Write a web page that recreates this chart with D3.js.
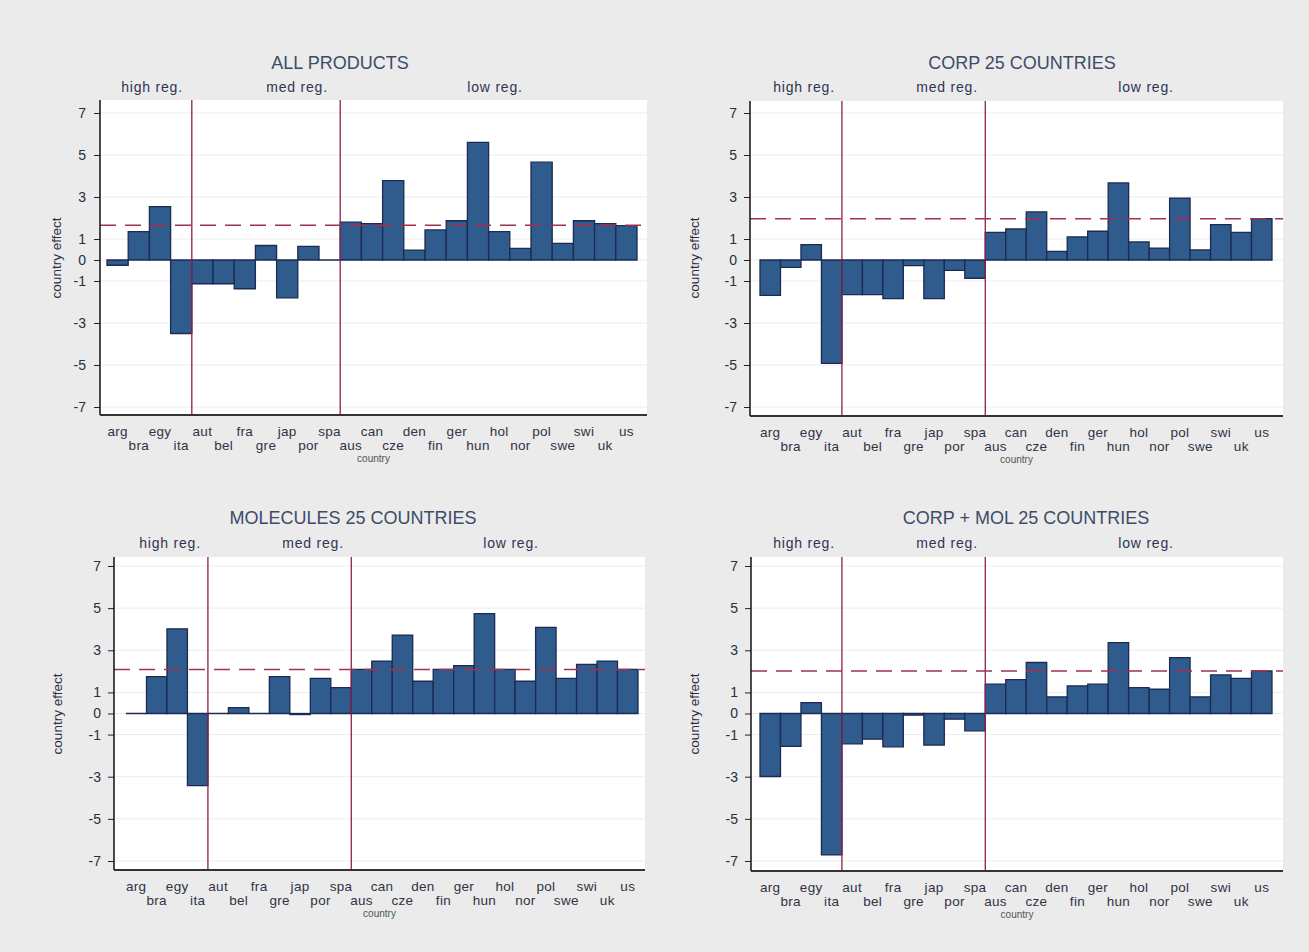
<!DOCTYPE html>
<html>
<head>
<meta charset="utf-8">
<script src="https://cdn.jsdelivr.net/npm/d3@7"></script>
<style>
  html, body { margin: 0; padding: 0; background: #ebebeb; }
  svg { display: block; }
  text { font-family: "Liberation Sans", Arial, sans-serif; }
</style>
</head>
<body>
<svg id="chart" width="1309" height="952"></svg>
<script>
// Countries in the order drawn along each x axis
const countries = ["arg","bra","egy","ita","aut","bel","fra","gre","jap","por","spa",
  "aus","can","cze","den","fin","ger","hun","hol","nor","pol","swe","swi","uk","us"];

// Estimated country effects, one series per panel
const allProducts = [-0.25, 1.35, 2.54, -3.5, -1.13, -1.13, -1.37, 0.69, -1.8, 0.65, 0,
  1.8, 1.73, 3.78, 0.47, 1.43, 1.87, 5.6, 1.35, 0.55, 4.66, 0.79, 1.87, 1.73, 1.64];
const corp25 = [-1.68, -0.35, 0.73, -4.92, -1.65, -1.65, -1.84, -0.27, -1.84, -0.49, -0.87,
  1.32, 1.48, 2.29, 0.41, 1.1, 1.37, 3.67, 0.86, 0.57, 2.95, 0.48, 1.68, 1.32, 1.97];
const molecules25 = [0, 1.75, 4.02, -3.42, 0, 0.28, 0, 1.75, -0.05, 1.67, 1.23,
  2.09, 2.49, 3.72, 1.53, 2.09, 2.27, 4.74, 2.09, 1.53, 4.09, 1.67, 2.33, 2.49, 2.09];
const corpMol25 = [-2.99, -1.56, 0.52, -6.71, -1.44, -1.22, -1.58, -0.08, -1.5, -0.27, -0.82,
  1.39, 1.61, 2.42, 0.79, 1.31, 1.39, 3.36, 1.23, 1.15, 2.65, 0.79, 1.83, 1.67, 2.02];

// Reference level of the low-regulation group (dashed line)
const meanLevels = [1.65, 1.97, 2.09, 2.02];

const panelTitles = ["ALL PRODUCTS", "CORP 25 COUNTRIES", "MOLECULES 25 COUNTRIES", "CORP + MOL 25 COUNTRIES"];
const regimeLabels = ["high reg.", "med reg.", "low reg."];
const regimeStarts = ["aut", "aus"];          // first country of the med and low groups
const yTicks = [7, 5, 3, 1, 0, -1, -3, -5, -7];
const yTitle = "country effect";
const xTitle = "country";

const series = [allProducts, corp25, molecules25, corpMol25];

// Panel geometry (pixels)
const layout = [
  { left: 100, right: 647, top: 100, bottom: 415, y7: 113, ym7: 407, barL: 107, barR: 637,
    titleX: 340, titleY: 69, regY: 92, regX: [152, 297, 495], yTitleX: 57, yTitleY: 258, labelGap: 14 },
  { left: 750, right: 1283, top: 101, bottom: 416, y7: 113, ym7: 407, barL: 760, barR: 1272,
    titleX: 1022, titleY: 69, regX: [804, 947, 1146], regY: 92, yTitleX: 695, yTitleY: 258, labelGap: 13 },
  { left: 114, right: 645, top: 557, bottom: 870, y7: 566, ym7: 861, barL: 126, barR: 638,
    titleX: 353, titleY: 524, regX: [170, 313, 511], regY: 548, yTitleX: 58, yTitleY: 714, labelGap: 13 },
  { left: 751, right: 1283, top: 557, bottom: 871, y7: 566, ym7: 861, barL: 760, barR: 1272,
    titleX: 1026, titleY: 524, regX: [804, 947, 1146], regY: 548, yTitleX: 695, yTitleY: 714, labelGap: 13 }
];

const svg = d3.select("#chart");
svg.append("rect").attr("width", 1309).attr("height", 952).attr("fill", "#ebebeb");

series.forEach((vals, p) => {
  const L = layout[p];
  const g = svg.append("g");

  const x = d3.scaleBand().domain(countries).range([L.barL, L.barR]).padding(0);
  const y = d3.scaleLinear().domain([-7, 7]).range([L.ym7, L.y7]);

  // plot region
  g.append("rect")
    .attr("x", L.left).attr("y", L.top)
    .attr("width", L.right - L.left).attr("height", L.bottom - L.top)
    .attr("fill", "#ffffff");

  // horizontal grid
  g.selectAll(".grid").data(yTicks).join("line")
    .attr("x1", L.left).attr("x2", L.right)
    .attr("y1", d => y(d)).attr("y2", d => y(d))
    .attr("stroke", "#ececec").attr("stroke-width", 1);

  // bars
  g.selectAll(".bar").data(vals).join("path")
    .attr("d", (v, i) => {
      const x0 = x(countries[i]), x1 = x0 + x.bandwidth();
      return `M${x0},${y(0)}H${x1}V${y(v)}H${x0}Z`;
    })
    .attr("fill", "#2f5b8d")
    .attr("stroke", "#1c2b52")
    .attr("stroke-width", 1.3);

  // regime separators
  g.selectAll(".sep").data(regimeStarts).join("line")
    .attr("x1", d => x(d)).attr("x2", d => x(d))
    .attr("y1", L.top).attr("y2", L.bottom)
    .attr("stroke", "#8e1f51").attr("stroke-width", 1.3);

  // dashed reference level
  g.append("line")
    .attr("x1", L.left).attr("x2", L.right)
    .attr("y1", y(meanLevels[p])).attr("y2", y(meanLevels[p]))
    .attr("stroke", "#a3304f").attr("stroke-width", 1.5)
    .attr("stroke-dasharray", "16 9");

  // y axis
  const yAxis = d3.axisLeft(y).tickValues(yTicks).tickSize(6).tickPadding(L.labelGap - 6)
    .tickFormat(d => String(d));
  const ya = g.append("g").attr("transform", `translate(${L.left},0)`).call(yAxis);
  ya.select(".domain").remove();
  ya.selectAll(".tick line").attr("stroke", "#222").attr("stroke-width", 1);
  ya.selectAll(".tick text").attr("fill", "#2a2e3c").style("font-size", "14px")
    .style("font-family", "'Liberation Sans', Arial, sans-serif");
  g.append("line").attr("x1", L.left).attr("x2", L.left)
    .attr("y1", L.top).attr("y2", L.bottom)
    .attr("stroke", "#111").attr("stroke-width", 1.5);

  // x axis line
  g.append("line").attr("x1", L.left).attr("x2", L.right)
    .attr("y1", L.bottom).attr("y2", L.bottom)
    .attr("stroke", "#333").attr("stroke-width", 2);

  // staggered country labels
  g.selectAll(".xl").data(countries).join("text")
    .attr("x", d => x(d) + x.bandwidth() / 2)
    .attr("y", (d, i) => L.bottom + (i % 2 === 0 ? 21 : 35))
    .attr("text-anchor", "middle")
    .attr("fill", "#2f3345")
    .style("font-size", "13.5px")
    .style("letter-spacing", "0.3px")
    .text(d => d);

  // x title
  g.append("text")
    .attr("x", (L.left + L.right) / 2).attr("y", L.bottom + 47)
    .attr("text-anchor", "middle").attr("fill", "#4b5a4e")
    .style("font-size", "10px").text(xTitle);

  // y title
  g.append("text")
    .attr("transform", `translate(${L.yTitleX},${L.yTitleY}) rotate(-90)`)
    .attr("text-anchor", "middle").attr("dominant-baseline", "middle")
    .attr("fill", "#2a2e3c").style("font-size", "13.5px")
    .text(yTitle);

  // panel title
  g.append("text")
    .attr("x", L.titleX).attr("y", L.titleY)
    .attr("text-anchor", "middle").attr("fill", "#3d4b68")
    .style("font-size", "18px").text(panelTitles[p]);

  // regime group labels
  g.selectAll(".rl").data(regimeLabels).join("text")
    .attr("x", (d, i) => L.regX[i]).attr("y", L.regY)
    .attr("text-anchor", "middle").attr("fill", "#2e3550")
    .style("font-size", "14px")
    .style("letter-spacing", "0.8px")
    .text(d => d);
});
</script>
</body>
</html>
